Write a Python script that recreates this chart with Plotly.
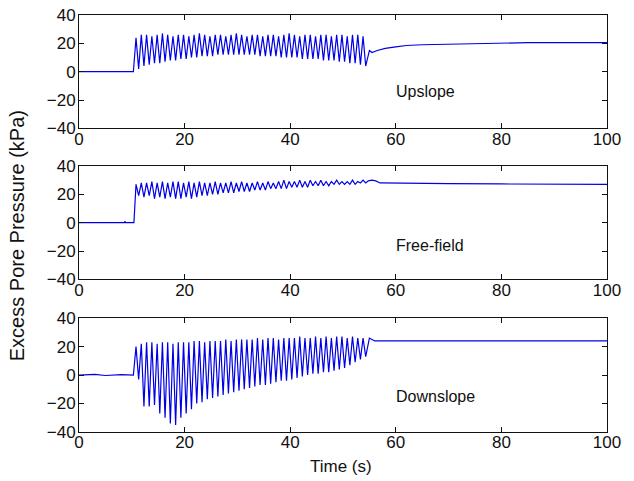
import plotly.graph_objects as go

# ---------------- data ----------------
cycle_t = [10.8, 11.8, 12.8, 13.8, 14.8, 15.8, 16.8, 17.8, 18.8, 19.8, 20.8,
           21.8, 22.8, 23.8, 24.8, 25.8, 26.8, 27.8, 28.8, 29.8, 30.8, 31.8,
           32.8, 33.8, 34.8, 35.8, 36.8, 37.8, 38.8, 39.8, 40.8, 41.8, 42.8,
           43.8, 44.8, 45.8, 46.8, 47.8, 48.8, 49.8, 50.8, 51.8, 52.8, 53.8]
trough_t = [11.3, 12.3, 13.3, 14.3, 15.3, 16.3, 17.3, 18.3, 19.3, 20.3, 21.3,
            22.3, 23.3, 24.3, 25.3, 26.3, 27.3, 28.3, 29.3, 30.3, 31.3, 32.3,
            33.3, 34.3, 35.3, 36.3, 37.3, 38.3, 39.3, 40.3, 41.3, 42.3, 43.3,
            44.3, 45.3, 46.3, 47.3, 48.3, 49.3, 50.3, 51.3, 52.3, 53.3, 54.3]

# Upslope
up_pre_t = [0, 10.3]
up_pre_v = [0, 0]
up_peak = [24, 26, 26, 25, 26, 27, 26, 25, 26, 26, 25, 26, 27, 26, 25, 26, 26, 25,
           26, 27, 26, 25, 26, 26, 25, 26, 26, 25, 26, 27, 26, 25, 26, 26, 25, 26,
           26, 25, 26, 26, 25, 26, 26, 25]
up_trough = [2, 4, 5, 6, 6, 7, 8, 8, 9, 9, 10, 10, 11, 11, 11, 12, 12, 12, 12, 12,
             12, 12, 12, 11, 11, 11, 11, 10, 10, 10, 10, 9, 9, 9, 9, 8, 8, 8, 7, 7,
             6, 6, 5, 4]
up_tail_t = [55.0, 55.5, 56.5, 58, 60, 62, 65, 70, 75, 80, 85, 90, 95, 100]
up_tail_v = [15, 13.5, 15, 16.5, 17.5, 18.5, 19, 19.5, 20, 20.3, 20.5, 20.5, 20.5, 20.5]

# Free-field
ff_pre_t = [0, 8.6, 8.7, 8.8, 10.4, 10.6]
ff_pre_v = [0, 0, 1, 0, 0, 12]
ff_peak = [27, 28, 28, 29, 28, 29, 28, 29, 29, 28, 29, 28, 29, 28, 28, 29, 28, 28,
           29, 28, 29, 28, 28, 29, 28, 29, 28, 29, 30, 29, 29, 30, 29, 30, 29, 30,
           29, 29, 30, 29, 29, 30, 29, 30]
ff_trough = [19, 18, 19, 17, 18, 17, 18, 17, 17, 18, 17, 18, 19, 19, 20, 20, 21, 21,
             21, 22, 22, 22, 23, 23, 23, 24, 24, 24, 24, 25, 25, 25, 25, 26, 26, 26,
             26, 27, 27, 27, 27, 27, 28, 28]
ff_tail_t = [54.8, 55.5, 56.2, 57, 60, 65, 70, 80, 90, 100]
ff_tail_v = [29.5, 30, 29.5, 28, 28, 27.5, 27.5, 27.3, 27, 27]

# Downslope
dn_pre_t = [0, 3, 5, 8, 10.3]
dn_pre_v = [0, 0.5, -0.3, 0.3, 0]
dn_peak = [20, 22, 23, 23, 22, 23, 23, 22, 23, 23, 23, 24, 24, 23, 24, 24, 24, 25,
           24, 25, 25, 25, 25, 26, 25, 26, 26, 25, 26, 26, 26, 27, 26, 26, 27, 26,
           27, 26, 27, 27, 26, 27, 26, 26]
dn_trough = [-3, -22, -22, -21, -27, -30, -34, -35, -30, -27, -24, -20, -19, -17,
             -16, -15, -14, -13, -12, -11, -10, -9, -8, -7, -7, -6, -5, -4, -4, -3,
             -2, -1, 0, 1, 1, 2, 2, 3, 4, 5, 7, 9, 11, 13]
dn_tail_t = [55.0, 55.5, 56, 58, 60, 65, 70, 80, 90, 100]
dn_tail_v = [26, 25, 24, 24, 24, 24, 24, 24, 24, 24]

labels = ["Upslope", "Free-field", "Downslope"]
label_y = [-14, -16, -15]
x_ticks = [0, 20, 40, 60, 80, 100]
y_ticks = [-40, -20, 0, 20, 40]

# ---------------- build series ----------------
def series(pre_t, pre_v, peaks, troughs, tail_t, tail_v):
    xs, ys = list(pre_t), list(pre_v)
    for t, p, tt, q in zip(cycle_t, peaks, trough_t, troughs):
        xs += [t, tt]
        ys += [p, q]
    xs += tail_t
    ys += tail_v
    return xs, ys

panels = [
    series(up_pre_t, up_pre_v, up_peak, up_trough, up_tail_t, up_tail_v),
    series(ff_pre_t, ff_pre_v, ff_peak, ff_trough, ff_tail_t, ff_tail_v),
    series(dn_pre_t, dn_pre_v, dn_peak, dn_trough, dn_tail_t, dn_tail_v),
]

domains = [[0.728, 1.0], [0.366, 0.638], [0.0, 0.273]]
FAM = "Liberation Sans, Arial, sans-serif"
tickfont = dict(family=FAM, size=17, color="#111111")

fig = go.Figure()
layout = dict(
    width=634, height=481,
    margin=dict(l=79, r=27, t=15, b=49, autoexpand=False),
    paper_bgcolor="white", plot_bgcolor="white",
    showlegend=False, font=tickfont,
)
annotations = []
for i, (xs, ys) in enumerate(panels):
    n = "" if i == 0 else str(i + 1)
    fig.add_trace(go.Scatter(x=xs, y=ys, mode="lines",
                             line=dict(color="rgb(0,0,230)", width=1.2),
                             xaxis="x" + n, yaxis="y" + n, hoverinfo="skip"))
    axcommon = dict(showline=True, linecolor="#111111", linewidth=1, mirror="ticks",
                    ticks="inside", ticklen=5, tickcolor="#111111", showgrid=False,
                    zeroline=False, tickfont=tickfont, automargin=False,
                    ticklabeloverflow="allow")
    layout["xaxis" + n] = dict(axcommon, domain=[0, 1], range=[0, 100],
                               tickvals=x_ticks, ticklabelstandoff=-5,
                               anchor="y" + n)
    layout["yaxis" + n] = dict(axcommon, domain=domains[i], range=[-40, 40],
                               tickvals=y_ticks, ticklabelstandoff=-1,
                               anchor="x" + n)
    annotations.append(dict(x=59.6, y=label_y[i], xref="x" + n, yref="y" + n,
                            text=labels[i], showarrow=False, xanchor="left",
                            yanchor="middle",
                            font=dict(family=FAM, size=16, color="#111111")))

annotations.append(dict(x=-0.117, y=0.47, xref="paper", yref="paper",
                        text="Excess Pore Pressure (kPa)", textangle=-90,
                        xanchor="center", yanchor="middle",
                        showarrow=False, font=dict(family=FAM, size=20, color="#111111")))
annotations.append(dict(x=0.496, y=-0.082, xref="paper", yref="paper",
                        text="Time (s)", showarrow=False,
                        xanchor="center", yanchor="middle",
                        font=dict(family=FAM, size=17, color="#111111")))
layout["annotations"] = annotations
fig.update_layout(**layout)
fig.write_html("out.html",
               config={"displayModeBar": False},
               post_script="document.body.style.margin='0px';"
                           "document.body.style.padding='0px';")
